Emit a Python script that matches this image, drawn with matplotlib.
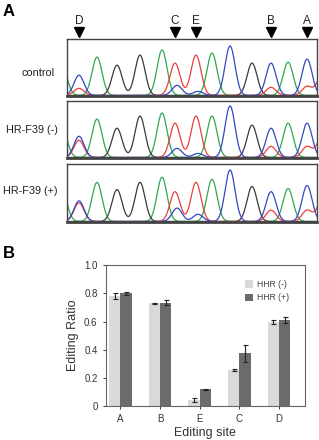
import numpy as np
import matplotlib
matplotlib.use("Agg")
import matplotlib.pyplot as plt

plt.rcParams['font.family'] = ['Liberation Sans', 'DejaVu Sans']

# chromatogram peaks (trace position, base) and peak heights per sample
peak_pos = [62, 79, 79, 97, 117, 140, 162, 175, 177, 196, 198, 212, 230, 252, 271, 271, 288, 307, 307, 322]
peak_base = ['A', 'C', 'T', 'A', 'G', 'G', 'A', 'T', 'C', 'T', 'C', 'A', 'C', 'G', 'C', 'T', 'A', 'C', 'T', 'T']
control_h = [30, 20, 7, 38, 30, 40, 45, 32, 10, 40, 4, 42, 49, 32, 32, 8, 33, 36, 9, 20]
minus_h = [30, 21, 17, 38, 29, 41, 44, 34, 9, 41, 4, 41, 51, 32, 29, 11, 34, 34, 11, 20]
plus_h = [30, 20, 18, 38, 31, 38, 43, 29, 13, 38, 7, 41, 50, 34, 29, 11, 32, 35, 11, 20]
samples = ['control', 'HR-F39 (-)', 'HR-F39 (+)']

sites = ['D', 'C', 'E', 'B', 'A']
site_pos = [79, 175, 196, 271, 307]

# editing ratios
categories = ['A', 'B', 'E', 'C', 'D']
hhr_minus = [0.78, 0.73, 0.04, 0.255, 0.595]
hhr_minus_err = [0.02, 0.003, 0.015, 0.01, 0.015]
hhr_plus = [0.80, 0.735, 0.118, 0.375, 0.61]
hhr_plus_err = [0.01, 0.02, 0.005, 0.06, 0.02]

base_colors = {'A': '#2fa84f', 'G': '#3a3a3a', 'T': '#e8413c', 'C': '#3348c4'}

fig = plt.figure(figsize=(3.19, 4.40), dpi=100)

panel_rects = [[0.210, 0.782, 0.784, 0.1295],
               [0.210, 0.641, 0.784, 0.1295],
               [0.210, 0.4955, 0.784, 0.132]]
label_xy = [(0.170, 0.834), (0.180, 0.705), (0.180, 0.567)]

x = np.linspace(60, 325, 1500)
sigma = 5.0
for rect, heights, name, (lx, ly) in zip(panel_rects, [control_h, minus_h, plus_h], samples, label_xy):
    ax = fig.add_axes(rect)
    for base in ['A', 'G', 'T', 'C']:
        y = np.zeros_like(x)
        for p, b, h in zip(peak_pos, peak_base, heights):
            if b == base:
                y += h * np.exp(-(x - p) ** 2 / (2 * sigma ** 2))
        ax.plot(x, y, color=base_colors[base], lw=0.9)
    ax.set_xlim(67, 317)
    ax.set_ylim(-0.5, 56)
    ax.set_xticks([])
    ax.set_yticks([])
    for s in ax.spines.values():
        s.set_color('#444444')
        s.set_linewidth(1.0)
    ax.spines['bottom'].set_linewidth(2.0)
    fig.text(lx, ly, name, ha='right', va='center', fontsize=7.8, color='#222222')
    if name == 'control':
        for sname, sp in zip(sites, site_pos):
            ax.plot(sp, 1.12, marker='v', color='black', markersize=6.5,
                    transform=ax.get_xaxis_transform(), clip_on=False)
            ax.text(sp, 1.31, sname, ha='center', va='center', fontsize=8.5,
                    transform=ax.get_xaxis_transform(), color='#222222')

fig.text(0.008, 0.975, 'A', fontsize=12, fontweight='bold', va='center')
fig.text(0.008, 0.423, 'B', fontsize=12, fontweight='bold', va='center')

# bar chart
bx = fig.add_axes([0.332, 0.0773, 0.624, 0.320])
idx = np.arange(len(categories))
w = 0.285
bx.bar(idx - w / 2, hhr_minus, w, color='#d9d9d9', label='HHR (-)', zorder=2)
bx.bar(idx + w / 2, hhr_plus, w, color='#6b6b6b', label='HHR (+)', zorder=2)
bx.errorbar(idx - w / 2, hhr_minus, yerr=hhr_minus_err, fmt='none', ecolor='#222222',
            elinewidth=0.8, capsize=1.8, capthick=0.8, zorder=3)
bx.errorbar(idx + w / 2, hhr_plus, yerr=hhr_plus_err, fmt='none', ecolor='#222222',
            elinewidth=0.8, capsize=1.8, capthick=0.8, zorder=3)
bx.set_xlim(-0.36, 4.65)
bx.set_ylim(0, 1.0)
bx.set_yticks([0, 0.2, 0.4, 0.6, 0.8, 1.0])
bx.set_yticklabels(['0', '0.2', '0.4', '0.6', '0.8', '1.0'])
bx.set_xticks(idx)
bx.set_xticklabels(categories)
bx.tick_params(labelsize=7, colors='#333333', length=2.5, width=0.7)
for s in bx.spines.values():
    s.set_color('#666666')
    s.set_linewidth(0.8)
bx.set_ylabel('Editing Ratio', fontsize=9, color='#333333', labelpad=4)
bx.set_xlabel('Editing site', fontsize=9, color='#333333', labelpad=2)
bx.legend(frameon=False, fontsize=6.2, handlelength=0.9, handleheight=0.9,
          handletextpad=0.5, labelspacing=0.5, loc='upper left',
          bbox_to_anchor=(0.66, 0.95), labelcolor='#444444')

fig.savefig('out.png', dpi=100)
